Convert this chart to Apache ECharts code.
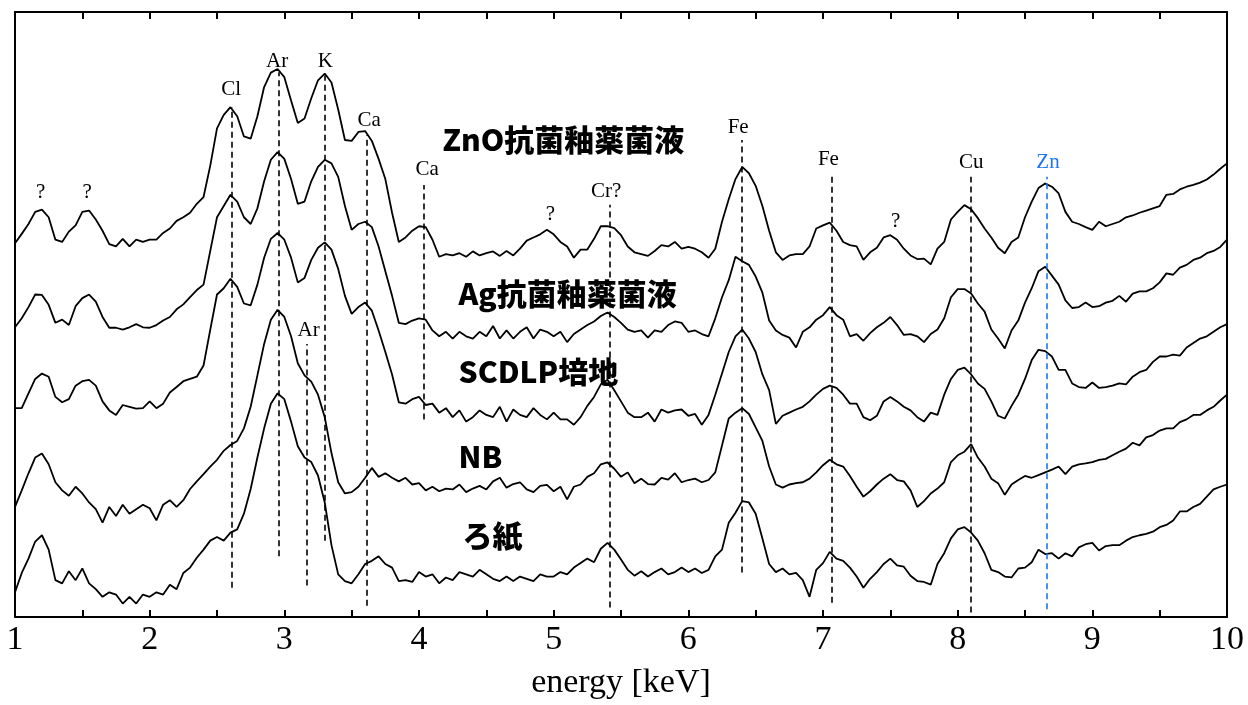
<!DOCTYPE html>
<html lang="ja">
<head>
    <meta charset="UTF-8"/>
    <title>XRF spectra</title>
    <style>
        html, body {
            margin: 0;
            padding: 0;
            width: 100vw;
            height: 100vh;
            background: #ffffff;
            overflow: hidden;
        }

        #chart {
            width: 1248px;
            height: 705px;
        }
    </style>
</head>
<body>
<div id="chart"></div>
<script src="https://cdn.jsdelivr.net/npm/echarts@6/dist/echarts.min.js"></script>
<script>
    const chart = echarts.init(document.getElementById('chart'));

    // sampling grid: 1.00 .. 10.00 keV, every 0.05 keV
    const energy = Array.from({length: 181}, (_, i) => +(1 + i * 0.05).toFixed(2));

    // counts (arbitrary units, spectra already offset for stacking)
    const znoCounts = [
        832, 853, 875, 902, 907, 890, 840, 835, 858, 872, 902, 905, 885, 860, 830, 825, 842, 825, 840, 835, 840, 840, 855, 865, 882, 890, 900, 920, 935, 1005, 1088,
        1118, 1135, 1115, 1070, 1065, 1115, 1180, 1212, 1220, 1202, 1150, 1100, 1110, 1155, 1195, 1210, 1190, 1130, 1062, 1060, 1080, 1082, 1060, 1020, 975, 900, 835, 845, 860, 870,
        868, 840, 802, 808, 805, 810, 802, 814, 805, 810, 814, 804, 815, 805, 820, 838, 845, 852, 862, 852, 835, 825, 800, 818, 818, 842, 870, 870, 866, 850, 825, 812,
        808, 804, 815, 828, 825, 835, 820, 824, 820, 812, 800, 820, 880, 930, 975, 1002, 988, 960, 915, 860, 812, 795, 805, 808, 808, 825, 865, 872, 878, 860, 835, 828,
        825, 795, 812, 822, 845, 850, 840, 820, 805, 797, 798, 785, 820, 835, 885, 902, 917, 908, 888, 865, 845, 822, 810, 835, 845, 890, 925, 955, 965, 958, 943,
        902, 880, 875, 868, 862, 880, 870, 875, 880, 890, 894, 900, 905, 910, 915, 940, 942, 952, 958, 962, 967, 974, 985, 998, 1010
    ];
    const agCounts = [
        645, 665, 690, 718, 717, 695, 655, 662, 650, 692, 710, 718, 702, 668, 644, 644, 640, 645, 652, 645, 644, 650, 660, 668, 685, 696, 712, 728, 740, 815, 890,
        915, 940, 925, 890, 875, 910, 970, 1018, 1035, 1020, 975, 920, 925, 970, 1002, 1018, 1010, 980, 915, 862, 875, 880, 868, 825, 770, 715, 655, 652, 660, 665,
        662, 638, 625, 635, 620, 635, 625, 620, 635, 625, 648, 620, 638, 620, 635, 645, 620, 640, 635, 625, 635, 612, 630, 640, 650, 658, 670, 678, 668, 655, 640, 635,
        638, 622, 638, 635, 650, 658, 655, 635, 638, 630, 625, 665, 712, 750, 802, 792, 784, 758, 722, 660, 638, 628, 622, 600, 635, 645, 662, 672, 690, 672, 662, 625,
        630, 615, 632, 645, 655, 668, 650, 628, 630, 625, 612, 630, 640, 665, 712, 730, 730, 720, 698, 680, 640, 620, 598, 638, 660, 700, 732, 770, 780, 760, 740,
        705, 688, 690, 700, 690, 692, 700, 704, 715, 702, 720, 725, 725, 732, 745, 765, 762, 778, 784, 795, 800, 810, 815, 824, 840
    ];
    const scdlpCounts = [
        465, 465, 498, 530, 542, 535, 490, 478, 485, 515, 525, 528, 515, 480, 460, 450, 472, 468, 464, 465, 480, 465, 475, 500, 512, 525, 530, 535, 560, 640, 718,
        732, 753, 735, 698, 694, 740, 800, 842, 855, 840, 800, 745, 755, 795, 822, 834, 818, 775, 715, 675, 690, 700, 682, 638, 590, 540, 478, 475, 485, 490,
        472, 475, 455, 465, 445, 460, 435, 445, 460, 450, 445, 468, 435, 462, 450, 445, 465, 450, 440, 455, 440, 440, 428, 445, 470, 490, 518, 528, 505, 480, 455, 445,
        445, 455, 435, 462, 455, 460, 462, 448, 452, 428, 450, 495, 542, 590, 625, 640, 620, 590, 540, 505, 430, 448, 455, 462, 468, 480, 495, 508, 515, 510, 495, 475,
        475, 445, 438, 448, 480, 490, 480, 468, 460, 445, 435, 455, 450, 495, 530, 550, 555, 540, 520, 508, 480, 448, 442, 470, 495, 530, 572, 595, 592, 580, 550,
        550, 520, 512, 510, 522, 510, 512, 515, 520, 518, 535, 545, 550, 568, 580, 580, 584, 582, 600, 610, 620, 625, 635, 645, 652
    ];
    const nbCounts = [
        245, 282, 320, 355, 364, 340, 300, 282, 270, 290, 275, 255, 240, 210, 245, 225, 250, 230, 240, 250, 242, 215, 250, 260, 245, 260, 285, 302, 318, 335, 350,
        370, 383, 392, 420, 468, 538, 608, 662, 684, 668, 625, 565, 538, 524, 495, 445, 365, 300, 275, 278, 290, 310, 332, 312, 320, 310, 302, 310, 295, 298,
        282, 290, 280, 286, 284, 295, 278, 286, 292, 284, 302, 310, 288, 296, 300, 284, 278, 292, 294, 280, 290, 262, 290, 295, 312, 320, 340, 344, 330, 312, 322, 298,
        308, 296, 295, 310, 306, 320, 300, 305, 308, 300, 305, 322, 382, 442, 455, 465, 452, 422, 392, 335, 295, 288, 295, 298, 300, 308, 322, 338, 350, 340, 335, 314,
        290, 268, 280, 295, 308, 318, 305, 302, 282, 245, 258, 275, 286, 300, 345, 360, 368, 385, 355, 335, 308, 298, 272, 295, 305, 314, 310, 316, 322, 328, 335,
        318, 335, 340, 342, 345, 350, 352, 360, 368, 375, 388, 382, 400, 405, 415, 420, 420, 434, 440, 450, 450, 460, 468, 482, 495
    ];
    const paperCounts = [
        55, 98, 130, 168, 182, 150, 82, 75, 102, 82, 108, 75, 62, 45, 55, 50, 30, 45, 30, 50, 45, 55, 50, 72, 62, 98, 110, 132, 150, 170, 178,
        170, 188, 195, 230, 285, 355, 420, 475, 498, 485, 435, 380, 355, 345, 315, 255, 160, 95, 80, 75, 95, 118, 125, 135, 118, 110, 80, 82, 78, 100,
        90, 95, 75, 88, 82, 100, 95, 90, 105, 95, 85, 80, 90, 80, 90, 85, 80, 95, 90, 90, 100, 95, 110, 120, 130, 122, 152, 165, 150, 128, 105, 92,
        102, 90, 100, 108, 95, 100, 110, 100, 108, 98, 105, 135, 150, 210, 232, 258, 255, 230, 175, 118, 100, 108, 95, 98, 82, 45, 105, 120, 145, 130, 125, 110,
        90, 65, 85, 100, 118, 130, 115, 112, 92, 80, 78, 72, 118, 142, 175, 195, 200, 188, 170, 142, 105, 100, 90, 88, 108, 110, 122, 150, 140, 142, 130,
        142, 135, 155, 162, 165, 148, 158, 160, 160, 170, 178, 182, 185, 190, 200, 205, 215, 235, 235, 245, 252, 268, 284, 290, 295
    ];

    // sample names: [text, energy, counts] where the name starts
    const sampleNames = [
        ['ZnO抗菌釉薬菌液', 4.17, 1064],
        ['Ag抗菌釉薬菌液', 4.29, 721],
        ['SCDLP培地', 4.29, 546],
        ['NB', 4.29, 358],
        ['ろ紙', 4.32, 181]
    ];

    // element guide lines: [element, energy, from counts, to counts]
    const guideLines = [
        ['Cl', 2.61, 65, 1135],
        ['Ar', 2.96, 135, 1213],
        ['K', 3.30, 170, 1206],
        ['Ca', 3.61, 25, 1073],
        ['Ar', 3.167, 70, 608],
        ['Ca', 4.033, 440, 962],
        ['Cr?', 5.413, 21, 918],
        ['Fe', 6.40, 99, 1062],
        ['Fe', 7.062, 32, 980],
        ['Cu', 8.095, 10, 980],
        ['Zn', 8.665, 17, 980]
    ];

    // element tags: [text, energy, counts]
    const elementTags = [
        ['?', 1.19, 945], ['?', 1.535, 945],
        ['Cl', 2.605, 1175], ['Ar', 2.946, 1237], ['K', 3.305, 1237], ['Ca', 3.63, 1106],
        ['Ca', 4.06, 996], ['Ar', 3.18, 639], ['?', 4.975, 896], ['Cr?', 5.39, 947],
        ['Fe', 6.37, 1089], ['Fe', 7.04, 1018], ['?', 7.54, 881],
        ['Cu', 8.10, 1013], ['Zn', 8.671, 1013]
    ];

    const zincBlue = '#1f74f2';
    const serif = '"Liberation Serif", "DejaVu Serif", serif';

    function spectrum(name, counts) {
        return {
            name: name,
            type: 'line',
            data: energy.map((e, i) => [e, counts[i]]),
            showSymbol: false,
            lineStyle: {color: '#000', width: 1.8},
            z: 3,
            silent: true
        };
    }

    const xCommon = {
        type: 'value',
        min: 1,
        max: 10,
        interval: 0.5,
        axisLine: {onZero: false, lineStyle: {color: '#000', width: 2}},
        axisTick: {inside: true, length: 7, lineStyle: {color: '#000', width: 2}},
        splitLine: {show: false}
    };
    const yCommon = {
        type: 'value',
        min: 0,
        max: 1347,
        axisLine: {show: true, onZero: false, lineStyle: {color: '#000', width: 2}},
        axisTick: {show: false},
        axisLabel: {show: false},
        splitLine: {show: false}
    };

    const option = {
        backgroundColor: '#fff',
        animation: false,
        grid: {left: 15, right: 21, top: 12, bottom: 86},
        xAxis: [
            Object.assign({}, xCommon, {
                position: 'bottom',
                name: 'energy [keV]',
                nameLocation: 'middle',
                nameGap: 49,
                nameTextStyle: {fontFamily: serif, fontSize: 34, color: '#000'},
                axisLabel: {
                    fontFamily: serif, fontSize: 34, color: '#000', margin: 6,
                    formatter: v => Number.isInteger(v) ? String(v) : ''
                }
            }),
            Object.assign({}, xCommon, {position: 'top', axisLabel: {show: false}})
        ],
        yAxis: [
            Object.assign({}, yCommon, {position: 'left'}),
            Object.assign({}, yCommon, {position: 'right'})
        ],
        series: [
            spectrum('ZnO抗菌釉薬菌液', znoCounts),
            spectrum('Ag抗菌釉薬菌液', agCounts),
            spectrum('SCDLP培地', scdlpCounts),
            spectrum('NB', nbCounts),
            spectrum('ろ紙', paperCounts),
            {
                type: 'line',
                data: [],
                silent: true,
                markLine: {
                    silent: true,
                    symbol: ['none', 'none'],
                    label: {show: false},
                    data: guideLines.map(g => [
                        {coord: [g[1], g[2]], lineStyle: {color: g[0] === 'Zn' ? zincBlue : '#000', width: 1.6, type: [6, 4]}},
                        {coord: [g[1], g[3]]}
                    ])
                },
                z: 2
            },
            {
                type: 'scatter',
                silent: true,
                symbolSize: 1,
                itemStyle: {color: 'transparent', opacity: 1},
                data: elementTags.map(t => ({value: [t[1], t[2]], name: t[0]})),
                label: {
                    show: true,
                    position: 'inside',
                    formatter: p => p.name,
                    fontFamily: serif,
                    fontSize: 21,
                    color: '#000'
                },
                labelLayout: {hideOverlap: false},
                z: 4
            },
            {
                type: 'scatter',
                silent: true,
                symbolSize: 1,
                itemStyle: {color: 'transparent', opacity: 1},
                data: sampleNames.map(t => ({value: [t[1], t[2]], name: t[0]})),
                label: {
                    show: true,
                    position: 'right',
                    distance: 0,
                    formatter: p => p.name,
                    fontFamily: '"Noto Sans CJK JP", "Noto Sans", sans-serif',
                    fontWeight: 900,
                    fontSize: 30,
                    color: '#000'
                },
                z: 4
            }
        ]
    };

    // Zn tag is drawn in blue
    option.series[6].data.forEach(d => {
        if (d.name === 'Zn') d.label = {color: zincBlue};
    });

    chart.setOption(option);

    window.addEventListener('resize', () => {
        chart.resize();
    });
</script>
</body>
</html>
